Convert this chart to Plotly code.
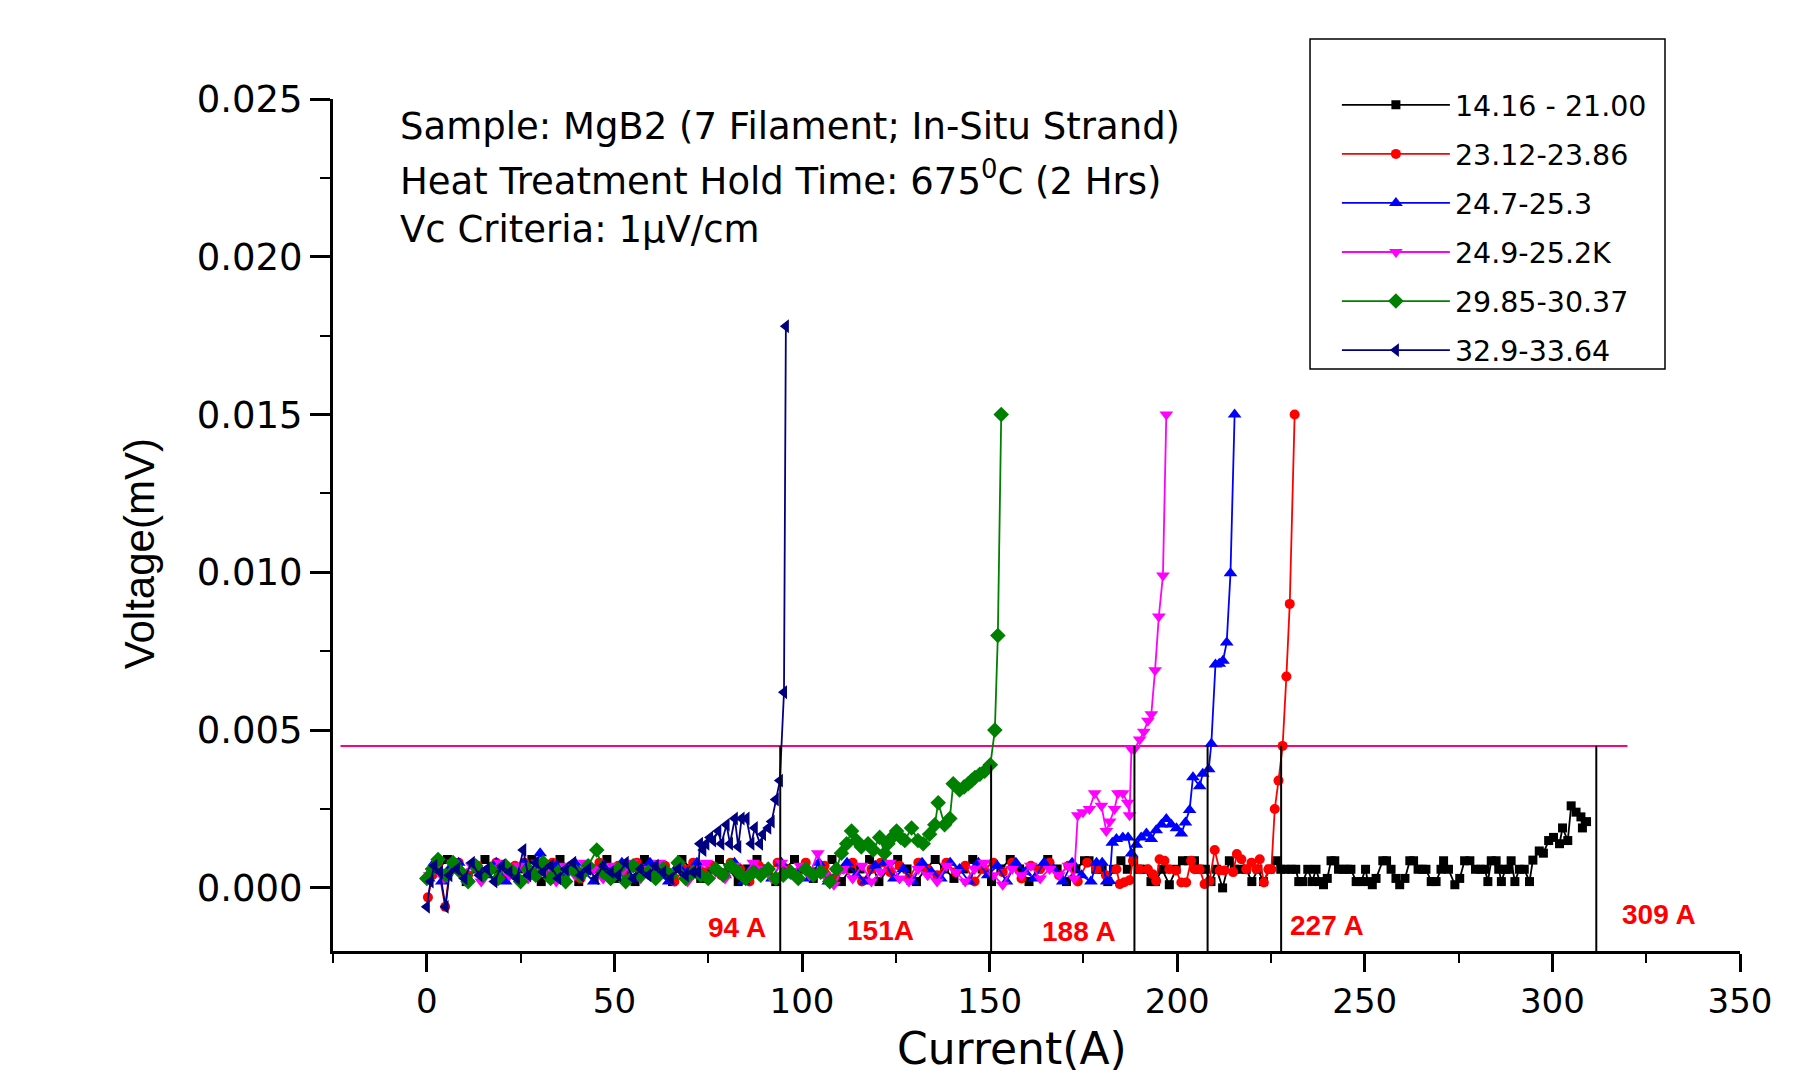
import plotly.graph_objects as go

# ---------------- data (Current A, Voltage mV) ----------------
series_names = ["14.16 - 21.00", "23.12-23.86", "24.7-25.3", "24.9-25.2K", "29.85-30.37", "32.9-33.64"]

black_pts = [(0.5,0.0003),(3,0.0006),(5.5,0.0009),(8,0.0006),(10.5,0.0002),(13,0.0006),(15.5,0.0009),(18,0.0006),(20.5,0.0003),(23,0.0006),(25.5,0.0006),(28,0.0009),(30.5,0.0002),(33,0.0006),(35.5,0.0009),(38,0.0006),(40.5,0.0002),(43,0.0006),(45.5,0.0006),(48,0.0009),(50.5,0.0003),(53,0.0006),(55.5,0.0002),(58,0.0009),(60.5,0.0006),(63,0.0006),(65.5,0.0002),(68,0.0009),(70.5,0.0006),(73,0.0003),(75.5,0.0006),(78,0.0009),(80.5,0.0006),(83,0.0002),(85.5,0.0006),(88,0.0009),(90.5,0.0006),(93,0.0002),(95.5,0.0006),(98,0.0009),(100.5,0.0006),(103,0.0003),(105.5,0.0006),(108,0.0009),(110.5,0.0002),(113,0.0006),(115.5,0.0006),(118,0.0009),(120.5,0.0002),(123,0.0006),(125.5,0.0009),(128,0.0006),(130.5,0.0002),(133,0.0006),(135.5,0.0009),(138,0.0006),(140.5,0.0003),(143,0.0006),(145.5,0.0009),(148,0.0006),(150.5,0.0002),(153,0.0006),(155.5,0.0009),(158,0.0006),(160.5,0.0002),(163,0.0006),(165.5,0.0009),(168,0.0006),(170.5,0.0002),(173,0.0006),
    (175.3,0.00086),(176.5,0.00086),(178.3,0.00059),(180,0.00059),(181.5,0.0002),(183,0.00059),(185,0.00086),(186.7,0.00059),(188.4,0.00086),(190,0.00059),(191.5,0.00059),(193,0.0002),(194.2,0.0002),(196,0.00059),(197.9,0.0001),(199.7,0.00059),(201.4,0.00086),(203,0.00086),(204.6,0.00086),(206,0.00059),(207.5,0.00059),(209,0.0002),(210.5,0.00059),(212.1,0.0),(213.9,0.00086),(215.2,0.00059),(216.8,0.00059),(218.4,0.00059),(219.9,0.0002),(221.5,0.00059),(223,0.0002),(224.7,0.00059),(226.4,0.00086),(227.6,0.00059),(229,0.00059),(230.4,0.00059),(231.6,0.00059),(232.4,0.0002),(233.5,0.0002),(234.8,0.00059),(236,0.0002),(237,0.00059),(238,0.0002),(239,0.0001),(240,0.0003),(241,0.00086),(242,0.00086),(243,0.00059),(244.2,0.00059),(245.3,0.00059),(246.3,0.00059),(247.7,0.0002),(249,0.0002),(250.2,0.00059),(250.8,0.0002),(252,0.0001),(253,0.0003),(254.8,0.00086),(255.8,0.00086),(257,0.00059),(258.3,0.0003),(259.3,0.0001),(260.7,0.0003),(262,0.00086),(263,0.00086),(264.2,0.00059),(265.3,0.00059),(266.3,0.00059),(267.7,0.0002),(269,0.0002),(270.3,0.00059),(271,0.00086),(272.3,0.00059),(274,0.0001),(275.3,0.0003),(276.6,0.00086),(278,0.00086),(279.5,0.00059),(280.8,0.00059),(282,0.00059),(282.8,0.0002),(283.7,0.00086),(285,0.00086),(285.7,0.00059),(286.4,0.0002),(287.5,0.00059),(288.4,0.00059),(289,0.00086),(290,0.0002),(291.2,0.00059),(292.5,0.00059),(293.9,0.0002),(294.8,0.00088),(296.5,0.00117),(297.6,0.0011),(299,0.0015),(300.3,0.0016),(301.9,0.0014),(302.7,0.0019),(304.1,0.0015),(305,0.0026),(306.3,0.0024),(307.6,0.00225),(308,0.0019),(309.1,0.0021)]

red_pts = [(0.3,-0.0003),(1.5,0.0004),(3,0.0007),(4.9,-0.0006),(6,0.0005),(8.5,0.0008),(11,0.0004),(13.5,0.0007),(16,0.0005),(18.5,0.0008),(21,0.0003),(23.5,0.0007),(26,0.0008),(28.5,0.0004),(31,0.0006),(33.5,0.0008),(36,0.0005),(38.5,0.0007),(41,0.0003),(43.5,0.0006),(46,0.0008),(48.5,0.0005),(51,0.0007),(53.5,0.0004),(56,0.0008),(58.5,0.0006),(61,0.0003),(63.5,0.0007),(66,0.0002),(68.5,0.0006),(71,0.0008),(73.5,0.0005),(76,0.0007),(78.5,0.0004),(81,0.0008),(83.5,0.0006),(86,0.0002),(88.5,0.0007),(91,0.0005),(93.5,0.0008),(96,0.0006),(98.5,0.0004),(101,0.0008),(103.5,0.0005),(106,0.0007),(108.5,0.0003),(111,0.0006),(113.5,0.0008),(116,0.0002),(118.5,0.0006),(121,0.0008),(123.5,0.0005),(126,0.0007),(128.5,0.0003),(131,0.0008),(133.5,0.0006),(136,0.0004),(138.5,0.0008),(141,0.0005),(143.5,0.0007),(146,0.0002),(148.5,0.0006),(151,0.0008),(153.5,0.0005),(156,0.0008),(158.5,0.0003),(161,0.0007),(163.5,0.0006),(166,0.0008),(168.5,0.0004),(171,0.0007),(173.5,0.0002),(176,0.0008),(178.5,0.0006),(181,0.0004),
    (183.8,0.00059),(184.7,0.00012),(185.9,0.00018),(187.3,0.00024),(188.2,0.00086),(190,0.00059),(192.2,0.00059),(193.5,0.00043),(194.4,0.00022),(195.3,0.00091),(196.6,0.00086),(197.9,0.00059),(199.7,0.00055),(201.1,0.00017),(202.4,0.00017),(203.7,0.00086),(204.6,0.00059),(206,0.00059),(207.3,0.00012),(208.6,0.00022),(210,0.0012),(211.3,0.00055),(212.6,0.00055),(214.9,0.0005),(215.9,0.00107),(217.1,0.00091),(218.4,0.00059),(219.8,0.0008),(221.1,0.00059),(222,0.00091),(223.1,0.00017),(224.3,0.00059),(225.1,0.00059),(226.0,0.0025),(227.0,0.0034),(228.1,0.0045),(229.1,0.0067),(230.0,0.009),(231.3,0.015)]

blue_pts = [(0.5,0.0003),(2,0.0008),(4,0.0002),(6,0.0006),(8.5,0.0008),(11,0.0003),(13.5,0.0007),(16,0.0004),(18.5,0.0008),(21,0.0002),(23.5,0.0006),(26,0.0008),(28.5,0.0004),(30.2,0.0011),(32,0.0005),(34.5,0.0007),(37,0.0003),(39.5,0.0008),(42,0.0005),(44.5,0.0002),(47,0.0007),(49.5,0.0004),(52,0.0008),(54.5,0.0003),(57,0.0006),(59.5,0.0008),(62,0.0004),(64.5,0.0002),(67,0.0007),(69.5,0.0005),(72,0.0008),(74.5,0.0003),(77,0.0006),(79.5,0.0004),(82,0.0008),(84.5,0.0002),(87,0.0007),(89.5,0.0005),(92,0.0003),(94.5,0.0008),(97,0.0004),(99.5,0.0006),(102,0.0003),(104.5,0.0008),(107,0.0002),(109.5,0.0006),(112,0.0008),(114.5,0.0004),(117,0.0002),(119.5,0.0007),(122,0.0008),(124.5,0.0003),(127,0.0006),(129.5,0.0002),(132,0.0008),(134.5,0.0005),(137,0.0003),(139.5,0.0008),(142,0.0006),(144.5,0.0002),(147,0.0008),(149.5,0.0004),(152,0.0007),(154.5,0.0002),(157,0.0008),(159.5,0.0005),(162,0.0003),(164.5,0.0008),(167,0.0006),(169.5,0.0002),(172,0.0008),(174.5,0.0004),(177,0.0002),(178.5,0.0008),(180,0.0008),(181.2,0.0002),(182.0,0.00022),
    (182.7,0.00143),(183.8,0.00155),(185.5,0.0016),(186.9,0.0016),(187.8,0.00109),(189.1,0.00137),(190.4,0.0016),(191.8,0.00172),(193.1,0.00155),(194.4,0.00183),(195.8,0.00201),(197.1,0.00218),(198.4,0.00201),(199.8,0.00189),(201.1,0.00172),(202.2,0.00207),(203.3,0.00247),(204.2,0.00351),(206.0,0.00322),(206.8,0.00362),(208.4,0.00376),(209.1,0.00457),(210.2,0.00708),(211.2,0.0071),(212.2,0.0072),(213.2,0.00778),(214.2,0.00997),(215.3,0.015)]

pink_pts = [(0.8,0.0004),(2.5,0.0006),(4.5,0.0003),(7,0.0008),(9.5,0.0005),(12,0.0007),(14.5,0.0002),(17,0.0006),(19.5,0.0008),(22,0.0004),(24.5,0.0007),(27,0.0003),(29.5,0.0008),(32,0.0005),(34.5,0.0002),(37,0.0007),(39.5,0.0004),(42,0.0008),(44.5,0.0006),(47,0.0003),(49.5,0.0007),(52,0.0005),(54.5,0.0008),(57,0.0003),(59.5,0.0006),(62,0.0008),(64.5,0.0004),(67,0.0007),(69.5,0.0002),(72,0.0006),(74.5,0.0008),(77,0.0005),(79.5,0.0003),(82,0.0007),(84.5,0.0004),(87,0.0008),(89.5,0.0006),(92,0.0003),(94.5,0.0008),(97,0.0005),(99.5,0.0007),(102,0.0004),(104.2,0.0011),(106,0.0004),(108.5,0.0001),(111,0.0006),(113.5,0.0003),(116,0.0007),(118.5,0.0002),(121,0.0005),(123.5,0.0008),(126,0.0003),(128.5,0.0002),(131,0.0006),(133.5,0.0004),(136,0.0002),(138.5,0.0007),(141,0.0005),(143.5,0.0002),(146,0.0006),(148.5,0.0008),(151,0.0004),(153.5,0.0001),(156,0.0006),(158.5,0.0004),(161,0.0007),(163.5,0.0003),(166,0.0006),(168.5,0.0004),(171,0.0007),(172.5,0.0003),
    (173.5,0.0023),(174.9,0.0024),(176.6,0.0025),(178.0,0.003),(179.8,0.0026),(181.1,0.0018),(182.0,0.0021),(183.3,0.0025),(184.2,0.003),(185.5,0.003),(186.8,0.0027),(187.3,0.0023),(187.8,0.0044),(188.6,0.0044),(190.0,0.0047),(191.1,0.00495),(192.2,0.0053),(193.1,0.0055),(194.1,0.0069),(195.1,0.0086),(196.2,0.0099),(197.1,0.015)]

green_pts = [(0,0.0003),(1.5,0.0006),(3,0.0009),(5,0.0004),(7,0.0008),(9,0.0005),(11,0.0002),(13,0.0007),(15,0.0004),(17,0.0006),(19,0.0003),(21,0.0007),(23,0.0005),(25,0.0002),(27,0.0006),(29,0.0004),(31,0.0008),(33,0.0003),(35,0.0005),(37,0.0002),(39,0.0006),(41,0.0004),(43,0.0007),(45.3,0.0012),(47,0.0005),(49,0.0003),(51,0.0006),(53,0.0002),(55,0.0007),(57,0.0004),(59,0.0005),(61,0.0003),(63,0.0006),(65,0.0004),(67,0.0008),(69,0.0003),(71,0.0005),(73,0.0004),(75,0.0003),(77,0.0006),(79,0.0004),(81,0.0007),(83,0.0005),(85,0.0003),(87,0.0005),(89,0.0004),(91,0.0006),(93,0.0003),(95,0.0004),(97,0.0005),(99,0.0003),(101,0.0006),(103,0.0004),(105,0.0005),(107.4,0.0002),
    (109.2,0.0006),(110.5,0.0011),(111.9,0.0014),(113.2,0.0018),(114.5,0.0015),(115.8,0.0013),(117.6,0.0014),(119.0,0.0012),(120.7,0.0016),(122.0,0.0011),(122.9,0.0014),(124.0,0.0016),(125.2,0.0018),(126.3,0.0016),(127.4,0.0015),(129.2,0.0019),(130.9,0.0015),(132.3,0.0014),(134.0,0.0017),(135.4,0.0020),(136.3,0.0027),(138.0,0.0020),(139.4,0.0022),(140.3,0.0033),(142.0,0.0031),(143.2,0.0032),(144.3,0.0033),(145.2,0.0034),(146.1,0.0035),(147.4,0.0036),(148.7,0.0037),(150.2,0.0039),(151.4,0.0050),(152.2,0.0080),(153.1,0.0150)]

navy_pts = [(0,-0.0006),(1,0.0002),(2,0.0007),(3.5,0.0005),(5,-0.0006),(6,0.0004),(8,0.0006),(10,0.0003),(12,0.0008),(14,0.0004),(16,0.0006),(18,0.0002),(20,0.0007),(22,0.0005),(24,0.0003),(25.7,0.0012),(27,0.0004),(29,0.0008),(31,0.0005),(33,0.0007),(35,0.0003),(37,0.0006),(39,0.0008),(41,0.0004),(43,0.0006),(45,0.0003),(47,0.0007),(49,0.0005),(51,0.0004),(53,0.0008),(55,0.0003),(57,0.0006),(59,0.0004),(61,0.0007),(63,0.0005),(65,0.0003),(67,0.0006),(69,0.0004),(71,0.0005),(72.3,0.0005),
    (72.8,0.0014),(73.7,0.0012),(74.5,0.0014),(75.5,0.0016),(76.3,0.0015),(77.7,0.0018),(78.5,0.0014),(79.9,0.0020),(80.8,0.0014),(82.1,0.0022),(83.0,0.0013),(83.9,0.0022),(85.2,0.0022),(86.5,0.0014),(87.4,0.0019),(88.8,0.0014),(89.6,0.0017),(91.0,0.0019),(91.9,0.0021),(93.0,0.0028),(94.1,0.0034),(95.2,0.0062),(95.7,0.0178)]

criterion_v = 0.0045
ic_lines_x = [94.2, 150.4, 188.6, 208.1, 227.7, 311.7]
ic_lines_top = [0.0045, 0.0039, 0.0045, 0.0045, 0.0045, 0.0045]
ic_labels = ["94 A", "151A", "188 A", "227 A", "309 A"]
ic_label_x = [82.8, 121.0, 173.9, 239.9, 328.5]
ic_label_y = [-0.00127, -0.00135, -0.00138, -0.0012, -0.00084]

info_lines = ["Sample: MgB2 (7 Filament; In-Situ Strand)",
              "Heat Treatment Hold Time: 675<sup>0</sup>C (2 Hrs)",
              "Vc Criteria: 1\u03bcV/cm"]

# ---------------- styles ----------------
all_pts = [black_pts, red_pts, blue_pts, pink_pts, green_pts, navy_pts]
colors = ["#000000", "#ff0000", "#0000ff", "#ff00ff", "#008000", "#000080"]
symbols = ["square", "circle", "triangle-up", "triangle-down", "diamond", "triangle-left"]
msizes = [9, 10, 12, 12, 12, 12]

fig = go.Figure()
for name, pts, c, s, ms in zip(series_names, all_pts, colors, symbols, msizes):
    xs = [p[0] for p in pts]
    ys = [p[1] for p in pts]
    fig.add_trace(go.Scatter(x=xs, y=ys, mode="lines+markers", name=name,
                             legendgroup=name,
                             line=dict(color=c, width=1.8),
                             marker=dict(symbol=s, size=ms, color=c, line=dict(width=0))))

fig.update_xaxes(range=[-25, 350], tick0=0, dtick=50, showgrid=False, zeroline=False,
                 showline=True, linecolor="black", linewidth=3,
                 ticks="outside", ticklen=18, tickwidth=3, tickcolor="black",
                 tickfont=dict(family="DejaVu Sans", size=34, color="black"),
                 minor=dict(ticks="outside", ticklen=9, tickwidth=2, tickcolor="black",
                            tick0=0, dtick=25, showgrid=False))
fig.update_yaxes(range=[-0.002, 0.025], tick0=0, dtick=0.005, tickformat=".3f",
                 showgrid=False, zeroline=False,
                 showline=True, linecolor="black", linewidth=3,
                 ticks="outside", ticklen=20, tickwidth=3, tickcolor="black",
                 tickfont=dict(family="DejaVu Sans", size=37, color="black"),
                 minor=dict(ticks="outside", ticklen=10, tickwidth=2, tickcolor="black",
                            tick0=0, dtick=0.0025, showgrid=False))

shapes = []
# criterion line
shapes.append(dict(type="line", xref="x", yref="y", x0=-23, x1=320, y0=criterion_v, y1=criterion_v,
                   line=dict(color="#ff0080", width=2), layer="below"))
for xv, top in zip(ic_lines_x, ic_lines_top):
    shapes.append(dict(type="line", xref="x", yref="y", x0=xv, x1=xv, y0=-0.002, y1=top,
                       line=dict(color="black", width=2)))
# legend box
shapes.append(dict(type="rect", xref="paper", yref="paper", x0=0.6944, x1=0.9467, y0=0.6831, y1=1.0704,
                   line=dict(color="black", width=1.5), fillcolor="rgba(0,0,0,0)"))

annotations = []
for txt, yp in zip(info_lines, [0.968, 0.907, 0.847]):
    annotations.append(dict(text=txt, xref="paper", yref="paper", x=0.0462, y=yp,
                            xanchor="left", yanchor="middle", showarrow=False,
                            font=dict(family="DejaVu Sans", size=37, color="black")))
for txt, xv, yv in zip(ic_labels, ic_label_x, ic_label_y):
    annotations.append(dict(text="<b>" + txt + "</b>", xref="x", yref="y", x=xv, y=yv,
                            xanchor="center", yanchor="middle", showarrow=False,
                            font=dict(family="Liberation Sans", size=28, color="#ff0000")))
annotations.append(dict(text="Current(A)", xref="paper", yref="paper", x=0.4826, y=-0.115,
                        xanchor="center", yanchor="middle", showarrow=False,
                        font=dict(family="DejaVu Sans", size=44, color="black")))
annotations.append(dict(text="Voltage(mV)", xref="paper", yref="paper", x=-0.137, y=0.466,
                        xanchor="center", yanchor="middle", showarrow=False, textangle=-90,
                        font=dict(family="Liberation Sans", size=42, color="black")))

fig.update_layout(
    width=1799, height=1077,
    margin=dict(l=333, r=59, t=99, b=126, autoexpand=False),
    paper_bgcolor="white", plot_bgcolor="white",
    shapes=shapes, annotations=annotations,
    showlegend=True,
    legend=dict(x=0.7135, y=1.0225, xanchor="left", yanchor="top",
                bgcolor="rgba(0,0,0,0)", borderwidth=0,
                itemwidth=108, tracegroupgap=9, traceorder="grouped",
                font=dict(family="DejaVu Sans", size=28.5, color="black")),
)

fig.write_html("out.html", include_plotlyjs=True,
               config={"displayModeBar": False},
               post_script="document.body.style.margin='0';document.body.style.overflow='hidden';")
